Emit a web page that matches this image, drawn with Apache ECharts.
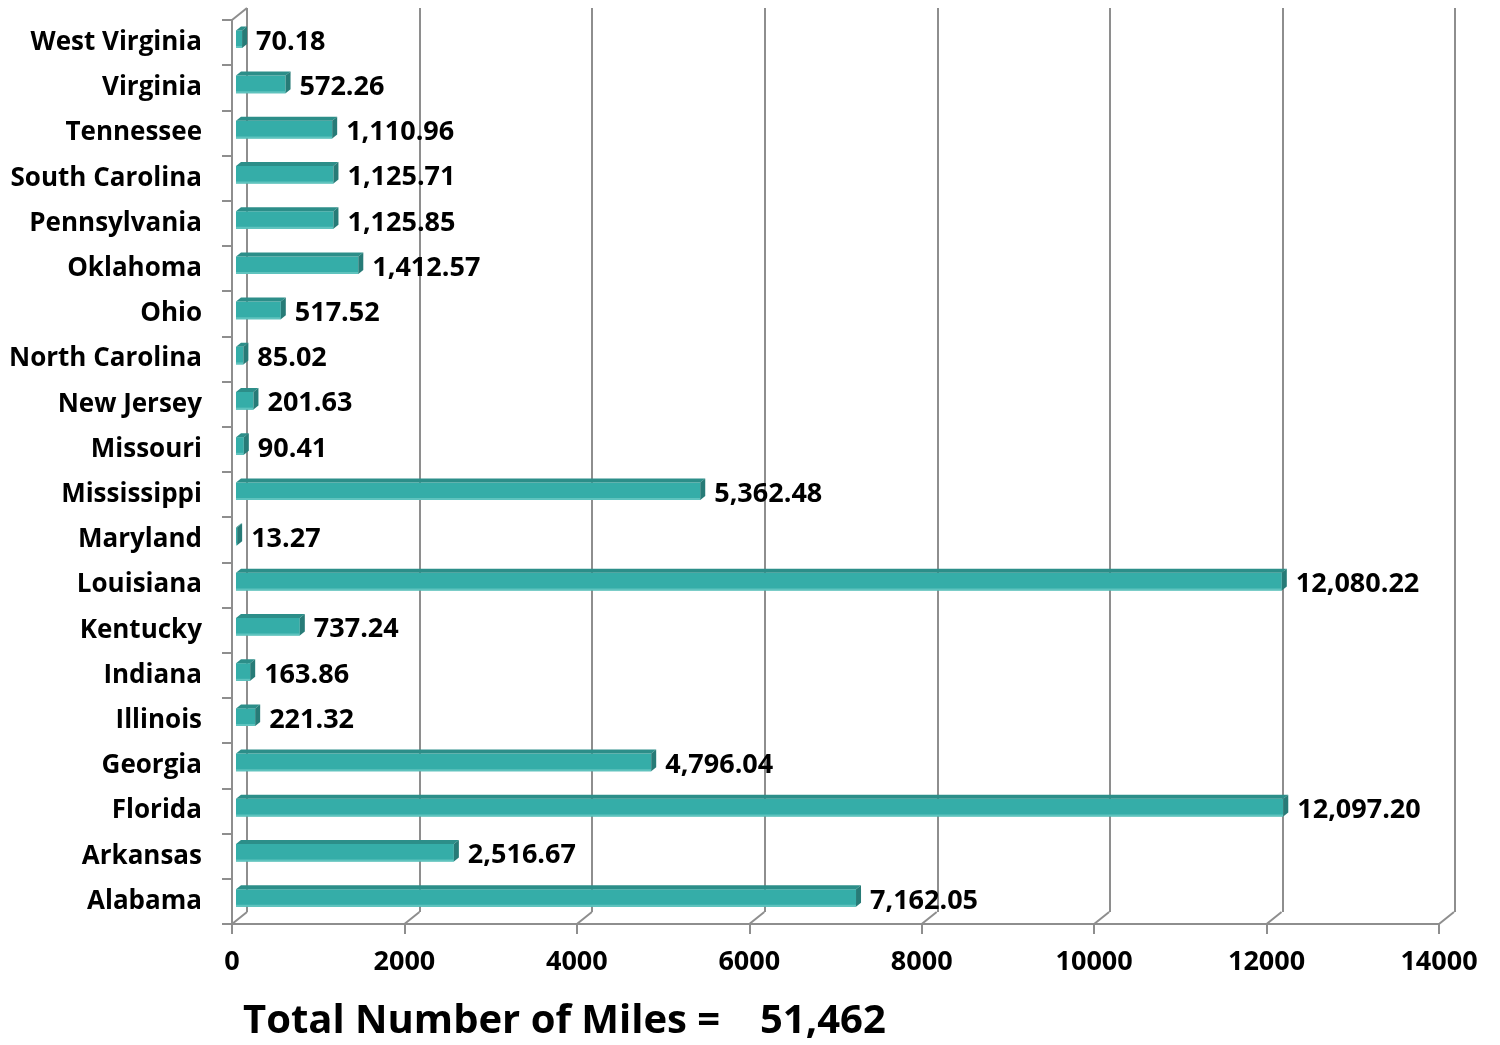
<!DOCTYPE html>
<html>
<head>
<meta charset="utf-8">
<script src="https://cdn.jsdelivr.net/npm/echarts@6/dist/echarts.min.js"></script>
<style>html,body{margin:0;padding:0;background:#fff}#c{width:1500px;height:1045px}</style>
</head>
<body>
<div id="c"></div>
<script>
const categories = ['Alabama','Arkansas','Florida','Georgia','Illinois','Indiana','Kentucky','Louisiana','Maryland','Mississippi','Missouri','New Jersey','North Carolina','Ohio','Oklahoma','Pennsylvania','South Carolina','Tennessee','Virginia','West Virginia'];
const miles = [7162.05,2516.67,12097.20,4796.04,221.32,163.86,737.24,12080.22,13.27,5362.48,90.41,201.63,85.02,517.52,1412.57,1125.85,1125.71,1110.96,572.26,70.18];
const tickValues = [0,2000,4000,6000,8000,10000,12000,14000];
const titleText = 'Total Number of Miles =';

const FONT = 'Open Sans';
const GRAY = '#8e8e8e';
const fmt = v => v.toLocaleString('en-US',{minimumFractionDigits:2,maximumFractionDigits:2});
const total = Math.round(miles.reduce((a,b)=>a+b,0)).toLocaleString('en-US');

const chart = echarts.init(document.getElementById('c'));
const DX = 5, DY = -4;     // bar depth
const WX = 15, WY = -12;   // wall depth

function renderBar(params, api){
  const v = api.value(0), c = api.value(1);
  const p0 = api.coord([0, c]);
  const p1 = api.coord([v, c]);
  const band = api.size([0, 1])[1];
  const h = band * 0.39;
  const x0 = p0[0], x1 = p1[0], yt = p0[1] - h/2, yb = p0[1] + h/2;
  return {type:'group', children:[
    {type:'rect', shape:{x:x0,y:yt,width:Math.max(x1-x0,0.5),height:h}, style:{fill:'#35ADA8'}},
    {type:'rect', shape:{x:x0,y:yb-2,width:Math.max(x1-x0,0.5),height:2}, style:{fill:'#5FC3BE'}},
    {type:'polygon', shape:{points:[[x0,yt],[x0+DX,yt+DY],[x1+DX,yt+DY],[x1,yt]]}, style:{fill:'#2C8E89'}},
    {type:'polygon', shape:{points:[[x1,yt],[x1+DX,yt+DY],[x1+DX,yb+DY],[x1,yb]]}, style:{fill:'#277B77'}},
    {type:'text', style:{text:fmt(v), x:x1+DX+9, y:p0[1]+3, verticalAlign:'middle', align:'left',
      fontSize:27, fontWeight:'bold', fontFamily:FONT, fill:'#000'}}
  ]};
}

function renderWall(params, api){
  const v = api.value(0);
  const cs = params.coordSys;
  const p = api.coord([v, 0]);
  const yb = cs.y + cs.height;
  const children = [
    {type:'line', shape:{x1:p[0], y1:yb, x2:p[0]+WX, y2:yb+WY}, style:{stroke:GRAY, lineWidth:2}}
  ];
  if (v === 0) {
    children.push({type:'line', shape:{x1:p[0], y1:cs.y, x2:p[0]+WX, y2:cs.y+WY}, style:{stroke:GRAY, lineWidth:2}});
  }
  return {type:'group', children};
}

const valueAxisBase = {type:'value', min:0, max:14000, interval:2000};

chart.setOption({
  animation:false,
  backgroundColor:'#fff',
  title:[
    {text:titleText, left:238, top:997, textStyle:{fontSize:40, fontWeight:'bold', fontFamily:FONT, color:'#000'}},
    {text:total, left:755, top:997, textStyle:{fontSize:40, fontWeight:'bold', fontFamily:FONT, color:'#000'}}
  ],
  grid:[
    {left:232, top:20, width:1207, height:904},      // front
    {left:247, top:8, width:1208, height:904},       // back wall
    {left:236, top:16.6, width:1212, height:904}     // bars
  ],
  xAxis:[
    Object.assign({}, valueAxisBase, {gridIndex:0,
      axisLine:{show:true, lineStyle:{color:GRAY, width:2}},
      axisTick:{show:true, length:10, lineStyle:{color:GRAY, width:2}},
      axisLabel:{margin:25, fontSize:27, fontWeight:'bold', fontFamily:FONT, color:'#000', formatter:v=>String(v)},
      splitLine:{show:false}}),
    Object.assign({}, valueAxisBase, {gridIndex:1,
      axisLine:{show:false}, axisTick:{show:false}, axisLabel:{show:false},
      splitLine:{show:true, showMinLine:true, showMaxLine:true, lineStyle:{color:GRAY, width:2}}}),
    Object.assign({}, valueAxisBase, {gridIndex:2, show:false})
  ],
  yAxis:[
    {type:'category', gridIndex:0, data:categories,
      axisLine:{show:true, lineStyle:{color:GRAY, width:2}},
      axisTick:{show:true, length:10, lineStyle:{color:GRAY, width:2}},
      axisLabel:{margin:30, fontSize:26, fontWeight:'bold', fontFamily:FONT, color:'#000', padding:[5,0,0,0]},
      splitLine:{show:false}},
    {type:'category', gridIndex:1, data:categories, show:false},
    {type:'category', gridIndex:2, data:categories, show:false}
  ],
  series:[
    {type:'custom', xAxisIndex:0, yAxisIndex:0, renderItem:renderWall, silent:true,
      data:tickValues.map(v=>[v,0]), z:1},
    {type:'custom', xAxisIndex:2, yAxisIndex:2, renderItem:renderBar, silent:true,
      data:miles.map((v,i)=>[v,i]), z:3}
  ]
});
</script>
</body>
</html>
